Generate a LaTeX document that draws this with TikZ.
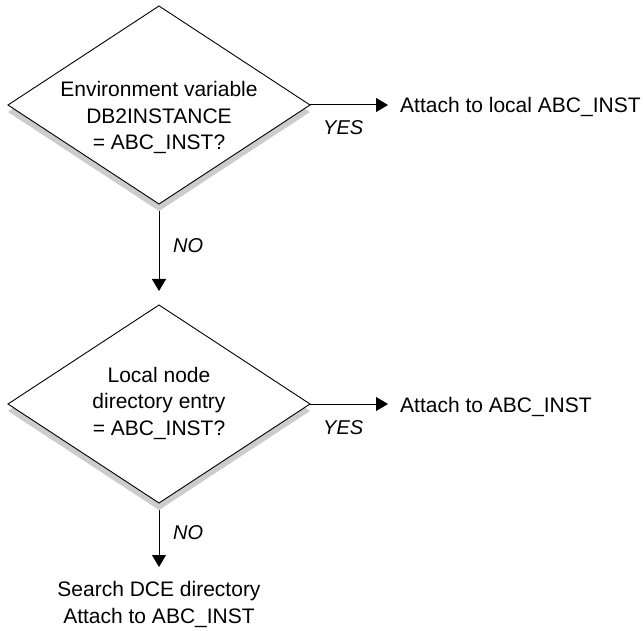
\documentclass[tikz,border=0pt]{standalone}
\usepackage{fontspec}
\setmainfont{Liberation Sans}
\usetikzlibrary{arrows.meta}
\definecolor{shadowgray}{gray}{0.8}
\tikzset{
  txt/.style={font=\fontsize{21}{26.5}\selectfont, inner sep=0pt},
  lbl/.style={font=\fontsize{20}{24}\selectfont\itshape, inner sep=0pt},
  flow/.style={line width=1pt, -{Triangle[length=12pt,width=14pt]}},
  edge/.style={line width=0.9pt, black},
}
% decision diamond centred at #1 with half-width 151pt and half-height 99pt
\newcommand{\decisionbox}[2]{%
  \fill[shadowgray] ([yshift=-7pt]#1) ++(-151pt,0) -- ++(151pt,99pt) -- ++(151pt,-99pt) -- ++(-151pt,-99pt) -- cycle;
  \filldraw[edge, fill=white] (#1) ++(-151pt,0) coordinate (#2l) -- ++(151pt,99pt) coordinate (#2t)
     -- ++(151pt,-99pt) coordinate (#2r) -- ++(-151pt,-99pt) coordinate (#2b) -- cycle;
}
\begin{document}
\begin{tikzpicture}[x=1pt,y=-1pt]
\useasboundingbox (0,0) rectangle (643,631);
\fill[white] (0,0) rectangle (643,631);

% first decision (text anchored on the baseline of its last line)
\coordinate (c1) at (159,105);
\decisionbox{c1}{d1}
\node[txt, align=center, anchor=base] (q1) at (159,150) {Environment variable\\DB2INSTANCE\\= ABC\_INST?};
\coordinate (d1out) at ([yshift=-7pt]d1b);

% second decision
\coordinate (c2) at (159,404);
\decisionbox{c2}{d2}
\node[txt, align=center, anchor=base] (q2) at (159,435) {Local node\\directory entry\\= ABC\_INST?};
\coordinate (d2out) at ([yshift=-7pt]d2b);

% outcomes
\node[txt, anchor=base west] (a1) at (400,113) {Attach to local ABC\_INST};
\node[txt, anchor=base west] (a2) at (400,412) {Attach to ABC\_INST};
\node[txt, align=center, anchor=base] (s3) at (159,623) {Search DCE directory\\Attach to ABC\_INST};

% arrow tips
\coordinate (t1) at (388,105);
\coordinate (t2) at (159,291);
\coordinate (t3) at (388,404);
\coordinate (t4) at (159,567);

% connectors
\draw[flow] (d1r) -- (t1);
\draw[flow] (d1out) -- (t2);
\draw[flow] (d2r) -- (t3);
\draw[flow] (d2out) -- (t4);

% branch labels
\node[lbl, anchor=base west] (y1) at (323,135) {YES};
\node[lbl, anchor=base west] (n1) at (173,253) {NO};
\node[lbl, anchor=base west] (y2) at (323,434) {YES};
\node[lbl, anchor=base west] (n2) at (173,539) {NO};
\end{tikzpicture}
\end{document}
